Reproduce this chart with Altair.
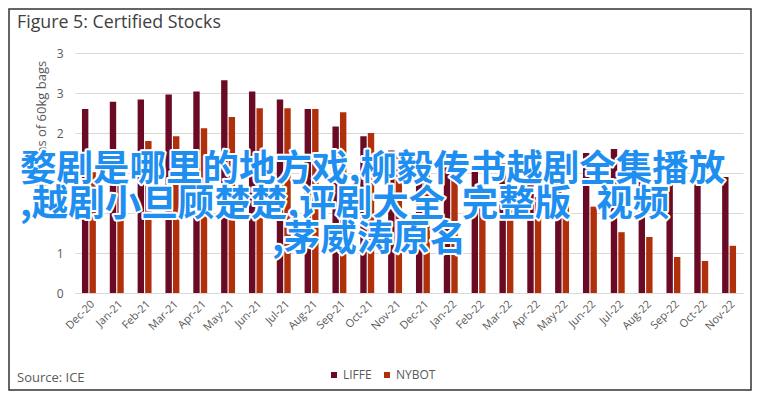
import altair as alt
import pandas as pd

months = ["Dec-20", "Jan-21", "Feb-21", "Mar-21", "Apr-21", "May-21", "Jun-21", "Jul-21",
          "Aug-21", "Sep-21", "Oct-21", "Nov-21", "Dec-21", "Jan-22", "Feb-22", "Mar-22",
          "Apr-22", "May-22", "Jun-22", "Jul-22", "Aug-22", "Sep-22", "Oct-22", "Nov-22"]
liffe = [2.30, 2.39, 2.42, 2.48, 2.52, 2.66, 2.52, 2.42, 2.30, 2.08, 1.96, 1.78,
         1.65, 1.57, 1.53, 1.62, 1.60, 1.58, 1.75, 1.80, 1.57, 1.52, 1.50, 1.45]
nybot = [1.51, 1.65, 1.90, 1.96, 2.06, 2.20, 2.31, 2.31, 2.30, 2.26, 2.00, 1.72,
         1.62, 1.45, 1.30, 1.25, 1.20, 1.15, 1.08, 0.76, 0.70, 0.45, 0.40, 0.59]
series = ["LIFFE", "NYBOT"]
colors = ["#6b0a24", "#b0300c"]
y_ticks = [0, 0.5, 1, 1.5, 2, 2.5, 3]
title_text = "Figure 5: Certified Stocks"
y_title = "Millions of 60kg bags"
source_text = "Source: ICE"
overlay_lines = ["婺剧是哪里的地方戏,柳毅传书越剧全集播放",
                 ",越剧小旦顾楚楚,评剧大全\u00a0\u00a0完整版\u00a0\u00a0\u00a0视频",
                 ",茅威涛原名"]

rows = []
for m, a, b in zip(months, liffe, nybot):
    rows.append({"month": m, "series": "LIFFE", "value": a})
    rows.append({"month": m, "series": "NYBOT", "value": b})
df = pd.DataFrame(rows)

FONT = "Open Sans"
GRAY = "#595959"
W, H = 668, 240

bars = alt.Chart(df).mark_bar().encode(
    x=alt.X("month:N", sort=months, title=None,
            scale=alt.Scale(paddingInner=0.5, paddingOuter=0.25),
            axis=alt.Axis(labelAngle=-45, labelColor=GRAY, labelFontSize=11, labelFont=FONT,
                          ticks=False, domainColor="#d9d9d9", labelPadding=5, grid=False)),
    xOffset=alt.XOffset("series:N", sort=series, scale=alt.Scale(paddingInner=0.15)),
    y=alt.Y("value:Q", scale=alt.Scale(domain=[0, 3]),
            axis=alt.Axis(values=y_ticks, labelExpr="round(datum.value)", labelColor=GRAY,
                          labelFontSize=12, labelFont=FONT, ticks=False, domain=False,
                          labelPadding=12, grid=True, gridColor="#d9d9d9", title=None)),
    color=alt.Color("series:N", sort=series, scale=alt.Scale(domain=series, range=colors),
                    legend=alt.Legend(title=None, orient="none", direction="horizontal",
                                      legendX=253, legendY=316, symbolType="square",
                                      symbolSize=36, symbolStrokeWidth=0, labelFont=FONT,
                                      labelFontSize=12, labelColor=GRAY, labelOffset=3,
                                      columnPadding=9)),
)

one = pd.DataFrame({"k": [0]})

ytitle = alt.Chart(pd.DataFrame({"t": [y_title]})).mark_text(
    align="center", baseline="bottom", angle=270, font=FONT, fontSize=13, color=GRAY
).encode(text="t:N", x=alt.value(-26), y=alt.value(71))

title = alt.Chart(pd.DataFrame({"t": [title_text]})).mark_text(
    align="left", baseline="alphabetic", font=FONT, fontSize=17.8, color="#404040"
).encode(text="t:N", x=alt.value(-58), y=alt.value(-25))

source = alt.Chart(pd.DataFrame({"t": [source_text]})).mark_text(
    align="left", baseline="alphabetic", font=FONT, fontSize=13, color=GRAY
).encode(text="t:N", x=alt.value(-58), y=alt.value(329))

frame = alt.Chart(one).mark_rect(fill=None, stroke="#333333", strokeWidth=1.5).encode(
    x=alt.value(-66), x2=alt.value(676), y=alt.value(-44), y2=alt.value(337))

overlay_pos = [(-55, 117), (-55, 152), (197, 187)]
overlay_layers = []
for line, (px, py) in zip(overlay_lines, overlay_pos):
    d = pd.DataFrame({"t": [line]})
    for stroke in (True, False):
        kw = dict(align="left", baseline="middle", font="Noto Sans CJK SC", fontSize=36.5,
                  fontWeight="bold", fill="#1e8ff0")
        if stroke:
            kw.update(stroke="white", strokeWidth=4, strokeJoin="round")
        overlay_layers.append(
            alt.Chart(d).mark_text(**kw).encode(text="t:N", x=alt.value(px), y=alt.value(py)))

chart = alt.layer(bars, ytitle, title, source, frame, *overlay_layers).properties(
    width=W, height=H,
    autosize=alt.AutoSizeParams(type="none"),
    padding={"left": 67, "top": 45, "right": 9, "bottom": 98},
).configure_view(stroke=None)

chart.save("out.html", embed_options={"renderer": "svg", "actions": False})
